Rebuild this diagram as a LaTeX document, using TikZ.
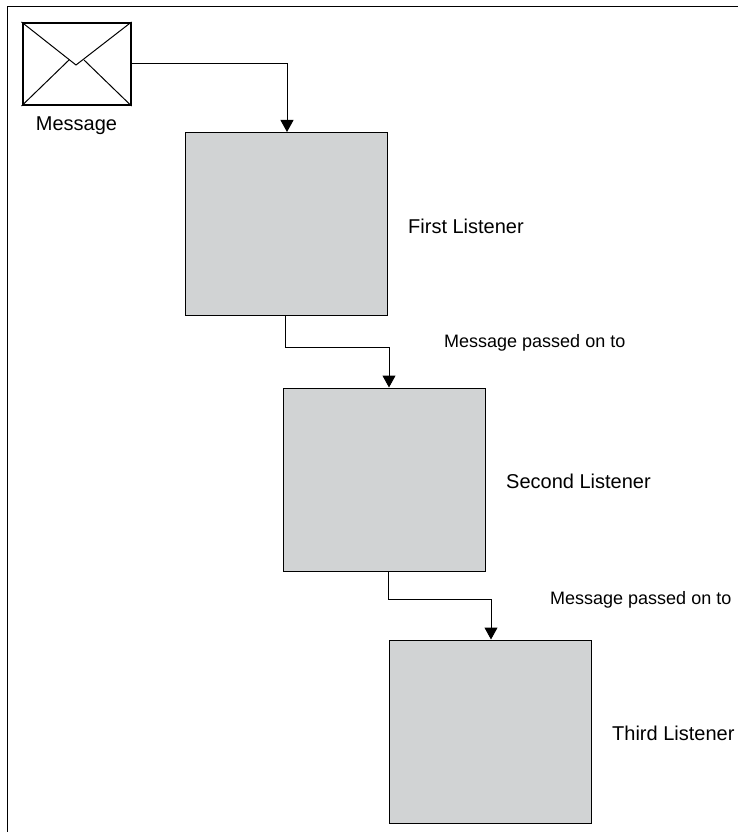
\documentclass[tikz,border=0pt]{standalone}
\usepackage{fontspec}
\setmainfont{Liberation Sans}
\usetikzlibrary{positioning,arrows.meta}
\definecolor{listenergray}{RGB}{209,211,212}
\tikzset{
  listener/.style={draw=black,fill=listenergray,line width=1pt,minimum width=202pt,minimum height=183pt,inner sep=0pt},
  envelope/.style={draw=black,line width=2pt,minimum width=108pt,minimum height=82pt,inner sep=0pt},
  listenerlabel/.style={font=\fontsize{20}{22}\selectfont,inner sep=0pt,anchor=west},
  passlabel/.style={font=\fontsize{18}{20}\selectfont,inner sep=0pt,anchor=west},
  connector/.style={line width=1pt,-{Triangle[length=12pt,width=13pt]}},
}
\begin{document}
\begin{tikzpicture}[x=1pt,y=-1pt]
  \useasboundingbox (0,0) rectangle (738,832);

  % frame, open on two sides
  \coordinate (frametop) at (738,7);
  \coordinate (framecorner) at (7,7);
  \coordinate (framebottom) at (7,832);
  \draw[line width=1pt] (frametop) -- (framecorner) -- (framebottom);

  \node[envelope] (envelope) at (76.5,64) {};
  \draw[line width=1pt] (envelope.north west) -- (76,65) -- (envelope.north east);
  \draw[line width=1pt] (envelope.south west) -- (69,60);
  \draw[line width=1pt] (envelope.south east) -- (84,60);
  \node[font=\fontsize{20}{22}\selectfont,inner sep=0pt,below=11pt of envelope] (message) {Message};

  \node[listener] (first) at (286,224) {};
  \node[listener] (second) at (384.5,479.5) {};
  \node[listener] (third) at (490.5,731.5) {};

  \node[listenerlabel] (firstlabel) at (408,226) {First Listener};
  \node[listenerlabel] (secondlabel) at (506,481) {Second Listener};
  \node[listenerlabel] (thirdlabel) at (612,733) {Third Listener};

  \node[passlabel] (passone) at (444,343) {Message passed on to};
  \node[passlabel] (passtwo) at (550,600) {Message passed on to};

  \draw[connector] (envelope.east) -| ([xshift=1pt]first.north);
  \draw[connector] ([xshift=-1pt]first.south) -- ++(0,31) -| ([xshift=4.5pt]second.north);
  \draw[connector] ([xshift=3.5pt]second.south) -- ++(0,28) -| ([xshift=0.5pt]third.north);
\end{tikzpicture}
\end{document}
